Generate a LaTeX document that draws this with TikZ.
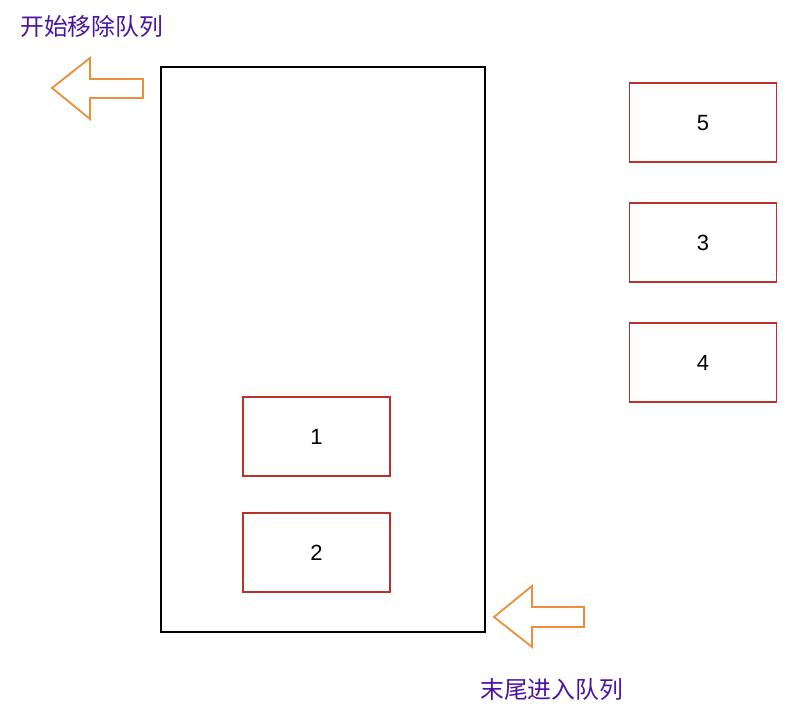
\documentclass[tikz,border=0pt]{standalone}
\usepackage{fontspec}
\setmainfont{Liberation Sans}
\newfontfamily\cjk{Noto Sans CJK SC}
\definecolor{qred}{HTML}{B8312A}
\definecolor{qorange}{HTML}{EE8E3A}
\definecolor{qpurple}{HTML}{4A14A0}
\newcommand{\qnum}[1]{\smash{\raisebox{-8pt}{#1}}}
\begin{document}
\begin{tikzpicture}[x=1pt,y=-1pt,
  qbox/.style={draw=qred,line width=1.8pt,minimum width=147pt,minimum height=79pt,inner sep=0pt,font=\fontsize{22}{24}\selectfont},
  qarrow/.style={draw=qorange,line width=1.8pt,line join=miter},
  qlabel/.style={text=qpurple,font=\cjk\fontsize{23.8}{28}\selectfont,inner sep=0pt,anchor=west}]
\useasboundingbox (0,0) rectangle (806,728);
\node[draw=black,line width=1.8pt,minimum width=324pt,minimum height=565pt,inner sep=0pt] (queue) at (323,349.5) {};
\node[qbox] (b5) at (703,122.5) {\qnum{5}};
\node[qbox] (b3) at (703,242.5) {\qnum{3}};
\node[qbox] (b4) at (703,362.5) {\qnum{4}};
\node[qbox] (b1) at (316.5,436.5) {\qnum{1}};
\node[qbox] (b2) at (316.5,552.5) {\qnum{2}};
\draw[qarrow] (52,88) -- (90,58) -- (90,79) -- (143,79) -- (143,98) -- (90,98) -- (90,119) -- cycle;
\draw[qarrow] (494,617) -- (532,586) -- (532,607) -- (584,607) -- (584,627) -- (532,627) -- (532,647) -- cycle;
\node[qlabel] (top) at (20,26) {开始移除队列};
\node[qlabel] (bot) at (480,690) {末尾进入队列};
\end{tikzpicture}
\end{document}
